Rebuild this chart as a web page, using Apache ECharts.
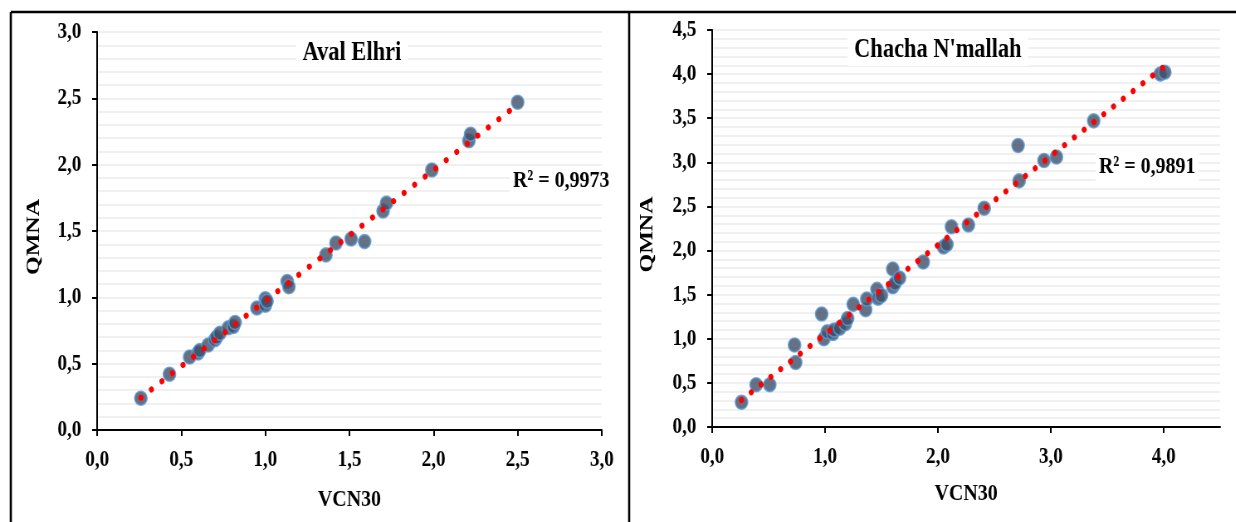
<!DOCTYPE html>
<html>
<head>
<meta charset="utf-8">
<script src="https://cdn.jsdelivr.net/npm/echarts@6/dist/echarts.min.js"></script>
<style>
html,body{margin:0;padding:0;background:#fff;overflow:hidden;width:1236px;height:522px;}
#c{width:1489px;height:522px;transform:scaleX(0.83);transform-origin:0 0;}
</style>
</head>
<body>
<div id="c"></div>
<script>
// ---- data ----
const titleLeft = 'Aval Elhri';
const titleRight = "Chacha N'mallah";
const r2Left = 'R² = 0,9973';
const r2Right = 'R² = 0,9891';
const xName = 'VCN30';
const yName = 'QMNA';
const avalVCN30 = [0.26,0.43,0.55,0.60,0.61,0.66,0.70,0.71,0.73,0.78,0.81,0.82,0.95,1.00,1.00,1.01,1.13,1.14,1.36,1.42,1.51,1.59,1.70,1.72,1.99,2.21,2.22,2.50];
const avalQMNA  = [0.24,0.42,0.55,0.58,0.60,0.64,0.68,0.70,0.73,0.77,0.78,0.81,0.92,0.94,0.99,0.97,1.12,1.08,1.32,1.41,1.44,1.42,1.65,1.71,1.96,2.18,2.23,2.47];
const chachaVCN30 = [0.26,0.39,0.51,0.73,0.74,0.97,0.99,1.02,1.07,1.08,1.13,1.18,1.20,1.25,1.36,1.37,1.46,1.47,1.50,1.60,1.60,1.62,1.66,1.87,2.05,2.08,2.12,2.27,2.41,2.71,2.72,2.94,3.05,3.38,3.97,4.01];
const chachaQMNA  = [0.28,0.48,0.48,0.93,0.73,1.28,1.00,1.08,1.06,1.10,1.12,1.17,1.23,1.39,1.33,1.45,1.56,1.46,1.49,1.79,1.59,1.63,1.69,1.87,2.04,2.07,2.27,2.29,2.48,3.19,2.79,3.02,3.06,3.47,4.00,4.02];
const leftXTicks = {min:0, max:3, interval:0.5};
const leftYTicks = {min:0, max:3, interval:0.5};
const rightXTicks = {min:0, max:4.5, interval:1};
const rightYTicks = {min:0, max:4.5, interval:0.5};

// ---- helpers ----
function pairs(xs, ys){ return xs.map((x,i)=>[x, ys[i]]); }
function trend(xs, ys){
  const n = xs.length;
  const mx = xs.reduce((a,b)=>a+b,0)/n, my = ys.reduce((a,b)=>a+b,0)/n;
  let sxy=0, sxx=0;
  for(let i=0;i<n;i++){ sxy+=(xs[i]-mx)*(ys[i]-my); sxx+=(xs[i]-mx)*(xs[i]-mx); }
  const b = sxy/sxx, a = my - b*mx;
  const x0 = Math.min(...xs), x1 = Math.max(...xs);
  return [[x0, a+b*x0],[x1, a+b*x1]];
}
const FONT = 'Liberation Serif';
const fmt = v => v.toFixed(1).replace('.', ',');

function xAxisCfg(idx, t, gap){
  return {
    type:'value', gridIndex:idx, min:t.min, max:t.max, interval:t.interval,
    name:xName, nameLocation:'middle', nameGap:gap,
    nameTextStyle:{fontFamily:FONT, fontWeight:'bold', fontSize:24, color:'#000'},
    axisLine:{show:true, onZero:false, lineStyle:{color:'#000', width:2}},
    axisTick:{show:true, inside:false, length:6, lineStyle:{color:'#000', width:2}},
    axisLabel:{formatter:fmt, fontFamily:FONT, fontWeight:'bold', fontSize:23, color:'#000', margin:19, showMaxLabel: t.max % t.interval === 0},
    splitLine:{show:false}
  };
}
function yAxisCfg(idx, t, gap){
  return {
    type:'value', gridIndex:idx, min:t.min, max:t.max, interval:t.interval,
    name:yName, nameLocation:'middle', nameGap:gap, nameRotate:90,
    nameTextStyle:{fontFamily:FONT, fontWeight:'bold', fontSize:24, color:'#000', padding:[0,12,0,0]},
    axisLine:{show:true, onZero:false, lineStyle:{color:'#000', width:2}},
    axisTick:{show:true, inside:false, length:6, lineStyle:{color:'#000', width:2}},
    axisLabel:{formatter:fmt, fontFamily:FONT, fontWeight:'bold', fontSize:23, color:'#000', margin:19},
    splitLine:{show:true, lineStyle:{color:'#ebebeb', width:1.5}},
    minorTick:{show:false, splitNumber:5},
    minorSplitLine:{show:true, lineStyle:{color:'#ebebeb', width:1.5}}
  };
}
const scatterStyle = {color:'#3F4F68', borderColor:'#5B9BD5', borderWidth:1.6};
function trendSeries(idx, xs, ys, period){
  return {
    type:'line', xAxisIndex:idx, yAxisIndex:idx, data:trend(xs, ys), showSymbol:false, silent:true, z:5,
    lineStyle:{color:'#FF0000', width:6, type:[0.1, period], cap:'round'}
  };
}
const titleStyle = {fontFamily:FONT, fontWeight:'bold', fontSize:27, color:'#000'};
const r2Style = {fontFamily:FONT, fontWeight:'bold', fontSize:24, color:'#000'};

const chart = echarts.init(document.getElementById('c'), null, {renderer:'canvas'});
chart.setOption({
  animation:false,
  backgroundColor:'#fff',
  title:[
    {text:titleLeft, left:416, top:38, textAlign:'center', textStyle:titleStyle, backgroundColor:'#fff', padding:[2,8]},
    {text:titleRight, left:1122, top:35, textAlign:'center', textStyle:titleStyle, backgroundColor:'#fff', padding:[2,8]},
    {text:r2Left, left:614, top:167, textStyle:r2Style, backgroundColor:'#fff', padding:[2,4]},
    {text:r2Right, left:1320, top:153, textStyle:r2Style, backgroundColor:'#fff', padding:[2,4]}
  ],
  grid:[
    {left:117, top:32, width:608, height:398, outerBoundsMode:'none'},
    {left:858, top:30, width:612, height:397, outerBoundsMode:'none'}
  ],
  xAxis:[xAxisCfg(0, leftXTicks, 58), xAxisCfg(1, rightXTicks, 55)],
  yAxis:[yAxisCfg(0, leftYTicks, 64), yAxisCfg(1, rightYTicks, 66)],
  series:[
    {type:'scatter', xAxisIndex:0, yAxisIndex:0, data:pairs(avalVCN30, avalQMNA), symbolSize:[15,14], itemStyle:scatterStyle, z:3},
    trendSeries(0, avalVCN30, avalQMNA, 15),
    {type:'scatter', xAxisIndex:1, yAxisIndex:1, data:pairs(chachaVCN30, chachaQMNA), symbolSize:[15,14], itemStyle:scatterStyle, z:3},
    trendSeries(1, chachaVCN30, chachaQMNA, 14)
  ],
  graphic:[
    {type:'line', shape:{x1:13, y1:12, x2:1489, y2:12}, style:{stroke:'#000', lineWidth:2.5}, z:10},
    {type:'line', shape:{x1:13, y1:12, x2:13, y2:522}, style:{stroke:'#000', lineWidth:2.6}, z:10},
    {type:'line', shape:{x1:758, y1:12, x2:758, y2:522}, style:{stroke:'#000', lineWidth:2.6}, z:10}
  ]
});
</script>
</body>
</html>
